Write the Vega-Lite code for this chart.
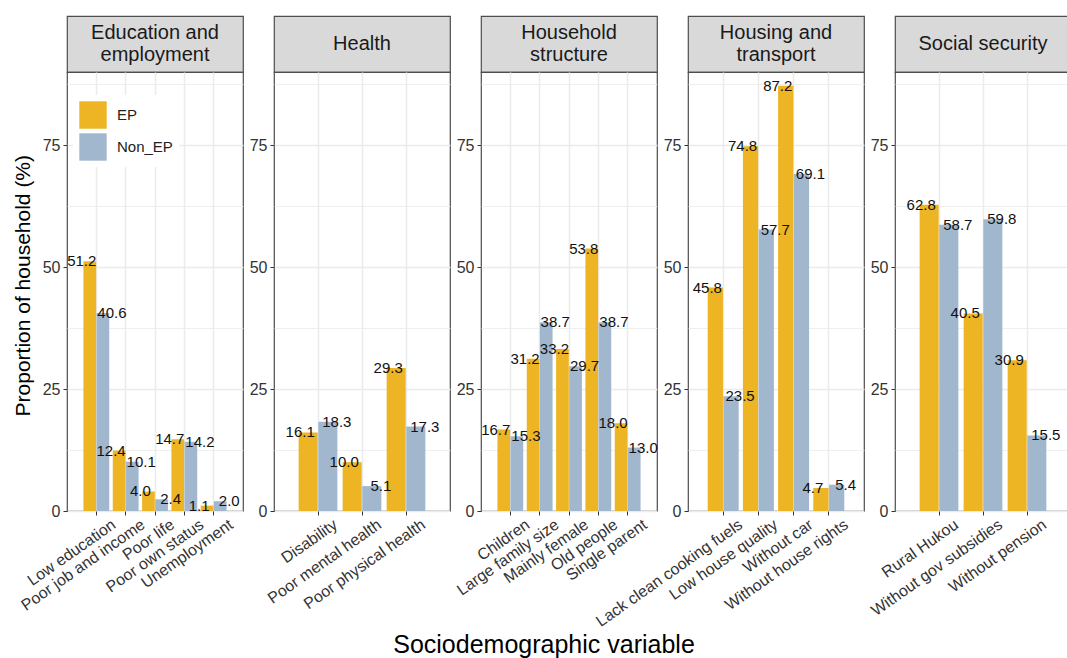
{
  "$schema": "https://vega.github.io/schema/vega-lite/v6.json",
  "padding": {"left": 13, "top": 15, "right": 0, "bottom": 0},
  "background": "white",
  "title": {"text": "Proportion of household (%)", "orient": "left", "anchor": "middle", "fontSize": 21, "fontWeight": "normal", "color": "#000000", "offset": -17, "dx": 51},
  "datasets": {
    "strips": [
      {"group": "Education and employment", "line": 1, "text": "Education and"},
      {"group": "Education and employment", "line": 2, "text": "employment"},
      {"group": "Health", "line": 1, "text": "Health"},
      {"group": "Household structure", "line": 1, "text": "Household"},
      {"group": "Household structure", "line": 2, "text": "structure"},
      {"group": "Housing and transport", "line": 1, "text": "Housing and"},
      {"group": "Housing and transport", "line": 2, "text": "transport"},
      {"group": "Social security", "line": 1, "text": "Social security"}
    ],
    "bars": [
      {"group": "Education and employment", "variable": "Low education", "type": "EP", "value": 51.2},
      {"group": "Education and employment", "variable": "Low education", "type": "Non_EP", "value": 40.6},
      {"group": "Education and employment", "variable": "Poor job and income", "type": "EP", "value": 12.4},
      {"group": "Education and employment", "variable": "Poor job and income", "type": "Non_EP", "value": 10.1},
      {"group": "Education and employment", "variable": "Poor life", "type": "EP", "value": 4.0},
      {"group": "Education and employment", "variable": "Poor life", "type": "Non_EP", "value": 2.4},
      {"group": "Education and employment", "variable": "Poor own status", "type": "EP", "value": 14.7},
      {"group": "Education and employment", "variable": "Poor own status", "type": "Non_EP", "value": 14.2},
      {"group": "Education and employment", "variable": "Unemployment", "type": "EP", "value": 1.1},
      {"group": "Education and employment", "variable": "Unemployment", "type": "Non_EP", "value": 2.0},
      {"group": "Health", "variable": "Disability", "type": "EP", "value": 16.1},
      {"group": "Health", "variable": "Disability", "type": "Non_EP", "value": 18.3},
      {"group": "Health", "variable": "Poor mental health", "type": "EP", "value": 10.0},
      {"group": "Health", "variable": "Poor mental health", "type": "Non_EP", "value": 5.1},
      {"group": "Health", "variable": "Poor physical health", "type": "EP", "value": 29.3},
      {"group": "Health", "variable": "Poor physical health", "type": "Non_EP", "value": 17.3},
      {"group": "Household structure", "variable": "Children", "type": "EP", "value": 16.7},
      {"group": "Household structure", "variable": "Children", "type": "Non_EP", "value": 15.3},
      {"group": "Household structure", "variable": "Large family size", "type": "EP", "value": 31.2},
      {"group": "Household structure", "variable": "Large family size", "type": "Non_EP", "value": 38.7},
      {"group": "Household structure", "variable": "Mainly female", "type": "EP", "value": 33.2},
      {"group": "Household structure", "variable": "Mainly female", "type": "Non_EP", "value": 29.7},
      {"group": "Household structure", "variable": "Old people", "type": "EP", "value": 53.8},
      {"group": "Household structure", "variable": "Old people", "type": "Non_EP", "value": 38.7},
      {"group": "Household structure", "variable": "Single parent", "type": "EP", "value": 18.0},
      {"group": "Household structure", "variable": "Single parent", "type": "Non_EP", "value": 13.0},
      {"group": "Housing and transport", "variable": "Lack clean cooking fuels", "type": "EP", "value": 45.8},
      {"group": "Housing and transport", "variable": "Lack clean cooking fuels", "type": "Non_EP", "value": 23.5},
      {"group": "Housing and transport", "variable": "Low house quality", "type": "EP", "value": 74.8},
      {"group": "Housing and transport", "variable": "Low house quality", "type": "Non_EP", "value": 57.7},
      {"group": "Housing and transport", "variable": "Without car", "type": "EP", "value": 87.2},
      {"group": "Housing and transport", "variable": "Without car", "type": "Non_EP", "value": 69.1},
      {"group": "Housing and transport", "variable": "Without house rights", "type": "EP", "value": 4.7},
      {"group": "Housing and transport", "variable": "Without house rights", "type": "Non_EP", "value": 5.4},
      {"group": "Social security", "variable": "Rural Hukou", "type": "EP", "value": 62.8},
      {"group": "Social security", "variable": "Rural Hukou", "type": "Non_EP", "value": 58.7},
      {"group": "Social security", "variable": "Without gov subsidies", "type": "EP", "value": 40.5},
      {"group": "Social security", "variable": "Without gov subsidies", "type": "Non_EP", "value": 59.8},
      {"group": "Social security", "variable": "Without pension", "type": "EP", "value": 30.9},
      {"group": "Social security", "variable": "Without pension", "type": "Non_EP", "value": 15.5}
    ]
  },
  "bounds": "flush",
  "spacing": 56,
  "vconcat": [
    {
      "data": {"name": "strips"},
      "bounds": "flush",
      "spacing": 31,
      "facet": {"column": {"field": "group", "type": "nominal", "title": null, "header": {"labels": false, "title": null}}},
      "resolve": {"scale": {"y": "independent"}},
      "spec": {
        "width": 176,
        "height": 56,
        "view": {"fill": "#D9D9D9", "stroke": "#4D4D4D", "strokeWidth": 1.2},
        "mark": {"type": "text", "fontSize": 20, "color": "#1A1A1A", "baseline": "middle", "align": "center"},
        "encoding": {
          "y": {"field": "line", "type": "ordinal", "scale": {"type": "point", "padding": 0.83}, "axis": null},
          "text": {"field": "text", "type": "nominal"}
        }
      }
    },
    {
      "data": {"name": "bars"},
      "bounds": "flush",
      "spacing": 31,
      "facet": {
        "column": {"field": "group", "type": "nominal", "title": "Sociodemographic variable",
          "header": {"labels": false, "title": "Sociodemographic variable", "titleOrient": "bottom", "titleFontSize": 25, "titleFontWeight": "normal", "titleColor": "#000000", "titlePadding": 112}}
      },
      "resolve": {"scale": {"x": "independent", "xOffset": "independent"}, "axis": {"y": "independent"}},
      "spec": {
        "width": 176,
        "height": 439,
        "view": {"stroke": "#4D4D4D", "strokeWidth": 1.2, "fill": "white"},
        "encoding": {
          "x": {"field": "variable", "type": "nominal", "sort": null,
            "scale": {"paddingInner": 0.12, "paddingOuter": 0.56},
            "axis": {"title": null, "labelAngle": -35, "labelAlign": "right", "labelBaseline": "top", "labelFontSize": 16, "labelColor": "#333333", "labelPadding": 1, "labelOffset": 13, "bandPosition": 0.5, "grid": true, "gridColor": "#EBEBEB", "gridWidth": 1.5, "domain": false, "ticks": true, "tickColor": "#333333", "tickSize": 4, "labelLimit": 300}},
          "xOffset": {"field": "type", "type": "nominal", "scale": {"domain": ["EP", "Non_EP"], "paddingInner": 0.03}},
          "y": {"field": "value", "type": "quantitative",
            "scale": {"domain": [0, 90], "nice": false, "zero": true},
            "axis": {"title": null, "values": [0, 12.5, 25, 37.5, 50, 62.5, 75, 87.5], "labelExpr": "datum.value % 25 === 0 ? datum.label : ''", "labelFontSize": 16, "labelColor": "#333333", "labelPadding": 3, "grid": true, "gridColor": "#EBEBEB", "gridWidth": {"condition": {"test": "datum.value % 25 === 0", "value": 1.5}, "value": 0.8}, "tickColor": "#333333", "tickSize": 4, "tickOpacity": {"condition": {"test": "datum.value % 25 === 0", "value": 1}, "value": 0}, "domain": false}}
        },
        "layer": [
          {
            "mark": {"type": "bar"},
            "encoding": {
              "color": {"field": "type", "type": "nominal",
                "scale": {"domain": ["EP", "Non_EP"], "range": ["#EDB424", "#A1B7CE"]},
                "legend": {"title": null, "orient": "none", "legendX": 6, "legendY": 79, "direction": "vertical", "symbolType": "square", "symbolSize": 750, "symbolStrokeWidth": 0, "labelFontSize": 15, "labelColor": "#222222", "labelOffset": 10, "rowPadding": 4, "fillColor": "white", "padding": 6}}
            }
          },
          {
            "transform": [{"filter": "datum.type === 'EP'"}],
            "mark": {"type": "text", "dx": -8, "baseline": "middle", "fontSize": 15, "color": "#111111"},
            "encoding": {"text": {"field": "value", "type": "quantitative", "format": ".1f"}}
          },
          {
            "transform": [{"filter": "datum.type === 'Non_EP'"}],
            "mark": {"type": "text", "dx": 9, "baseline": "middle", "fontSize": 15, "color": "#111111"},
            "encoding": {"text": {"field": "value", "type": "quantitative", "format": ".1f"}}
          }
        ]
      }
    }
  ],
  "config": {
    "font": "Liberation Sans",
    "view": {"stroke": "#4D4D4D"}
  }
}
